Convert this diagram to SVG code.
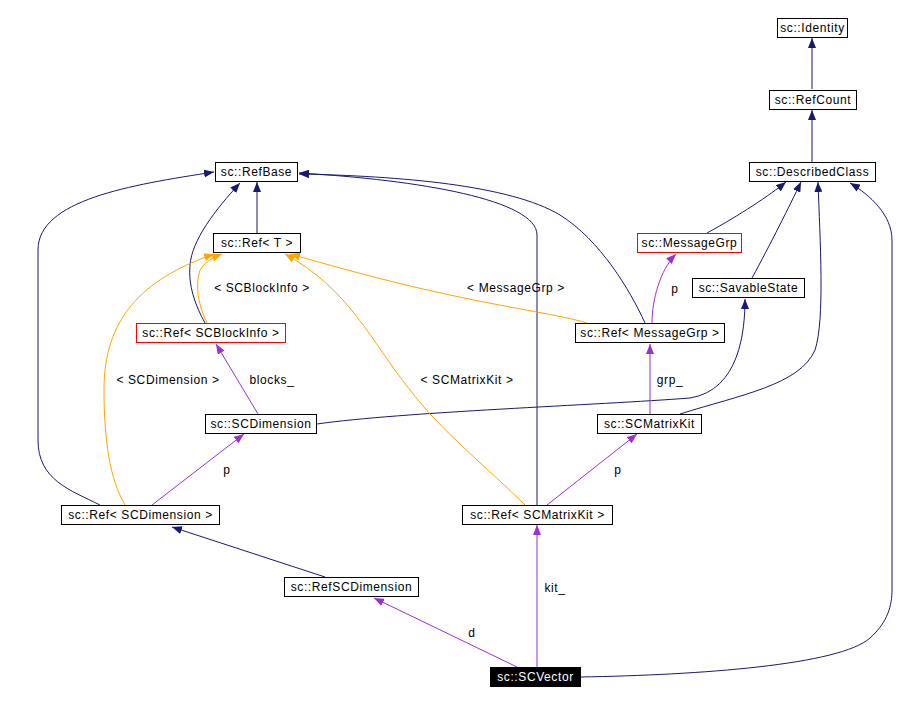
<svg xmlns="http://www.w3.org/2000/svg" width="910" height="705" viewBox="0 0 910 705">
<style>
.n rect{fill:#fff;stroke:#000;stroke-width:1}
.n.red rect{stroke:#f00}
.n.blk rect{fill:#000}
text{font-family:"Liberation Sans",Arial,sans-serif;font-size:12px;fill:#000;text-anchor:middle;letter-spacing:0.6px}
.n.blk text{fill:#fff}
.e path{fill:none;stroke-width:1}
.nv{stroke:#191970;marker-end:url(#an)}
.or{stroke:#ffa500;marker-end:url(#ao)}
.pu{stroke:#9a32cd;marker-end:url(#ap)}
</style>
<defs>
<marker id="an" viewBox="0 0 10 8" refX="10" refY="4" markerWidth="10" markerHeight="8" markerUnits="userSpaceOnUse" orient="auto"><path d="M0,0 L10,4 L0,8 z" fill="#191970"/></marker>
<marker id="ao" viewBox="0 0 10 8" refX="10" refY="4" markerWidth="10" markerHeight="8" markerUnits="userSpaceOnUse" orient="auto"><path d="M0,0 L10,4 L0,8 z" fill="#ffa500"/></marker>
<marker id="ap" viewBox="0 0 10 8" refX="10" refY="4" markerWidth="10" markerHeight="8" markerUnits="userSpaceOnUse" orient="auto"><path d="M0,0 L10,4 L0,8 z" fill="#9a32cd"/></marker>
</defs>
<rect width="910" height="705" fill="#fff"/>
<g id="edges" class="e">
<path class="nv" d="M812,89 L812,38"/>
<path class="nv" d="M812,162 L812,110"/>
<path class="nv" d="M257,233 L257,182"/>
<path class="nv" d="M205,323 C195,305 188,285 190,265 C192,240 215,210 240,183"/>
<path class="or" d="M207,323 C198,305 195,285 200,270 C205,262 212,258 222,254"/>
<path class="pu" d="M258,414 L216,344"/>
<path class="nv" d="M317,424 C400,412 600,405 690,398 C740,390 745,330 745,299"/>
<path class="nv" d="M100,505 C70,490 38,480 38,440 L38,250 C38,200 130,185 214,172"/>
<path class="or" d="M125,505 C110,480 104,440 104,390 C104,320 140,280 214,254"/>
<path class="pu" d="M152,505 L244,434"/>
<path class="nv" d="M325,577 L172,527"/>
<path class="pu" d="M517,667 L374,598"/>
<path class="pu" d="M537,667 L537,525"/>
<path class="nv" d="M580,677 C700,675 840,665 870,638 C888,622 892,605 892,590 L892,240 C892,215 870,195 850,183"/>
<path class="nv" d="M537,505 L537,235 C537,200 420,180 299,173"/>
<path class="nv" d="M645,323 C630,290 600,240 560,215 C510,185 400,176 299,174"/>
<path class="or" d="M525,505 C490,470 440,430 410,390 C370,340 350,290 285,254"/>
<path class="pu" d="M547,505 L637,434"/>
<path class="pu" d="M650,414 L650,344"/>
<path class="nv" d="M680,414 C740,395 800,385 815,350 C825,320 820,240 818,182"/>
<path class="pu" d="M652,323 C652,300 660,270 676,254"/>
<path class="or" d="M587,323 C560,315 520,310 450,295 C380,280 330,265 290,254"/>
<path class="nv" d="M707,233 C740,215 770,195 786,182"/>
<path class="nv" d="M752,278 C770,245 790,205 801,182"/>
<text x="262" y="292">&lt; SCBlockInfo &gt;</text>
<text x="272" y="384">blocks_</text>
<text x="168" y="384">&lt; SCDimension &gt;</text>
<text x="516" y="292">&lt; MessageGrp &gt;</text>
<text x="675" y="293">p</text>
<text x="467" y="384">&lt; SCMatrixKit &gt;</text>
<text x="670" y="384">grp_</text>
<text x="227" y="474">p</text>
<text x="618" y="474">p</text>
<text x="472" y="637">d</text>
<text x="555" y="592">kit_</text>
</g>
<g id="n_identity" class="n"><rect x="777.5" y="18.5" width="70" height="19"/><text x="812.5" y="32">sc::Identity</text></g>
<g id="n_refcount" class="n"><rect x="769.5" y="90.5" width="87" height="19"/><text x="813" y="104">sc::RefCount</text></g>
<g id="n_describedclass" class="n"><rect x="749.5" y="162.5" width="126" height="19"/><text x="812.5" y="176">sc::DescribedClass</text></g>
<g id="n_refbase" class="n"><rect x="215.5" y="162.5" width="82" height="19"/><text x="256.5" y="176">sc::RefBase</text></g>
<g id="n_reft" class="n"><rect x="213.5" y="233.5" width="87" height="19"/><text x="257" y="247">sc::Ref&lt; T &gt;</text></g>
<g id="n_refscblockinfo" class="n red"><rect x="136.5" y="323.5" width="149" height="19"/><text x="211" y="337">sc::Ref&lt; SCBlockInfo &gt;</text></g>
<g id="n_messagegrp" class="n red"><rect x="637.5" y="233.5" width="104" height="19"/><text x="689.5" y="247">sc::MessageGrp</text></g>
<g id="n_savablestate" class="n"><rect x="692.5" y="278.5" width="112" height="19"/><text x="748.5" y="292">sc::SavableState</text></g>
<g id="n_refmessagegrp" class="n"><rect x="575.5" y="323.5" width="149" height="19"/><text x="650" y="337">sc::Ref&lt; MessageGrp &gt;</text></g>
<g id="n_scdimension" class="n"><rect x="205.5" y="414.5" width="111" height="19"/><text x="261" y="428">sc::SCDimension</text></g>
<g id="n_scmatrixkit" class="n"><rect x="597.5" y="414.5" width="104" height="19"/><text x="649.5" y="428">sc::SCMatrixKit</text></g>
<g id="n_refscdimension" class="n"><rect x="61.5" y="505.5" width="158" height="19"/><text x="140.5" y="519">sc::Ref&lt; SCDimension &gt;</text></g>
<g id="n_refscmatrixkit" class="n"><rect x="462.5" y="505.5" width="150" height="19"/><text x="537.5" y="519">sc::Ref&lt; SCMatrixKit &gt;</text></g>
<g id="n_refscdim" class="n"><rect x="284.5" y="577.5" width="134" height="19"/><text x="351.5" y="591">sc::RefSCDimension</text></g>
<g id="n_scvector" class="n blk"><rect x="490.5" y="667.5" width="90" height="19"/><text x="535.5" y="681">sc::SCVector</text></g>
</svg>
